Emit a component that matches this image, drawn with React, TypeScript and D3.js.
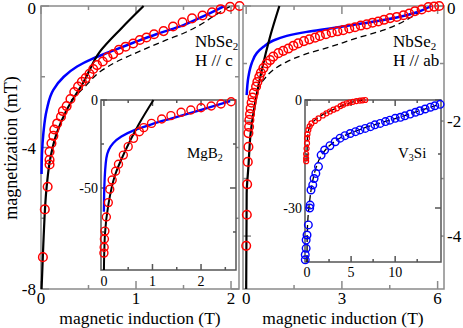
import React from "react";
import * as d3 from "d3";

type Pt = [number, number];

// NbSe2, H // c  (left panel)
const cCircles: Pt[] = [
  [2.09, 0], [1.99, -0.02], [1.89, -0.09], [1.8, -0.18], [1.7, -0.27], [1.59, -0.35],
  [1.49, -0.46], [1.39, -0.58], [1.29, -0.71], [1.19, -0.8], [1.11, -0.89], [1.04, -0.96],
  [0.97, -1.06], [0.89, -1.15], [0.82, -1.24], [0.76, -1.36], [0.7, -1.45], [0.65, -1.57],
  [0.59, -1.67], [0.55, -1.78], [0.51, -1.92], [0.47, -2.04], [0.43, -2.14], [0.39, -2.28],
  [0.35, -2.43], [0.31, -2.63], [0.27, -2.83], [0.23, -2.97], [0.21, -3.13], [0.17, -3.32],
  [0.14, -3.49], [0.13, -3.67], [0.11, -3.88], [0.09, -4.12], [0.09, -4.35], [0.09, -4.48],
  [0.07, -5.11], [0.04, -5.75], [0.02, -7.1],
];
const cBlue: Pt[] = [
  [0.006, -4.75], [0.01, -4.2], [0.025, -3.6], [0.06, -2.94], [0.13, -2.37], [0.24, -2.0],
  [0.38, -1.71], [0.55, -1.48], [0.73, -1.29], [0.97, -1.04], [1.22, -0.79], [1.5, -0.54],
  [1.74, -0.25], [1.93, 0],
];
const cSolid: Pt[] = [
  [0.006, -8], [0.025, -6.7], [0.06, -5.1], [0.095, -4.35], [0.165, -3.6], [0.27, -2.94],
  [0.45, -2.14], [0.62, -1.29], [0.85, -0.62], [1.08, 0],
];
const cDashed: Pt[] = [
  [0.32, -2.66], [0.48, -2.23], [0.62, -1.86], [0.8, -1.57], [0.97, -1.36], [1.15, -1.15],
  [1.32, -0.96], [1.5, -0.77], [1.67, -0.54], [1.81, -0.3], [1.95, -0.07], [2.0, 0],
];

// NbSe2, H // ab  (right panel)
const abCircles: Pt[] = [
  [6.05, 0], [5.89, -0.01], [5.71, -0.02], [5.5, -0.06], [5.29, -0.09], [5.11, -0.13],
  [4.93, -0.16], [4.72, -0.19], [4.51, -0.21], [4.32, -0.24], [4.14, -0.27], [3.96, -0.29],
  [3.78, -0.32], [3.59, -0.34], [3.41, -0.37], [3.23, -0.39], [3.04, -0.42], [2.86, -0.44],
  [2.68, -0.46], [2.5, -0.49], [2.31, -0.52], [2.16, -0.55], [1.98, -0.58], [1.81, -0.61],
  [1.63, -0.65], [1.48, -0.69], [1.32, -0.74], [1.16, -0.78], [1.01, -0.82], [0.85, -0.88],
  [0.75, -0.94], [0.64, -1.0], [0.54, -1.08], [0.46, -1.16], [0.41, -1.23], [0.35, -1.32],
  [0.31, -1.4], [0.24, -1.51], [0.2, -1.59], [0.17, -1.68], [0.14, -1.78], [0.12, -1.88],
  [0.1, -1.98], [0.09, -2.1], [0.07, -2.21], [0.07, -2.45], [0.05, -2.71], [0.03, -3.1],
  [0.02, -3.63], [0.0, -4.17],
];
const abBlue: Pt[] = [
  [0.015, -1.55], [0.07, -1.23], [0.17, -1.0], [0.33, -0.82], [0.54, -0.71], [0.85, -0.6],
  [1.27, -0.52], [1.9, -0.45], [2.63, -0.39], [3.67, -0.3], [4.72, -0.2], [5.4, -0.1], [5.8, 0],
];
const abSolid: Pt[] = [
  [0.0, -4.92], [0.015, -3.26], [0.07, -2.79], [0.14, -2.21], [0.28, -1.69], [0.49, -1.11],
  [0.75, -0.53], [1.04, 0],
];
const abDashed: Pt[] = [
  [0.33, -1.46], [0.54, -1.29], [0.85, -1.11], [1.27, -0.97], [1.79, -0.85], [2.63, -0.71],
  [3.46, -0.56], [4.3, -0.42], [5.03, -0.24], [5.55, -0.04], [5.62, 0],
];

// MgB2 inset
const mgCircles: Pt[] = [
  [2.62, -1], [2.41, -2.3], [2.21, -3.4], [2.0, -4.4], [1.79, -5.7], [1.59, -7.0],
  [1.38, -8.9], [1.19, -10.8], [0.98, -13.3], [0.82, -15.7], [0.73, -18], [0.61, -21.8],
  [0.5, -26.5], [0.4, -31.3], [0.3, -36.5], [0.24, -40.5], [0.17, -45.5], [0.12, -50.7],
  [0.09, -58.3], [0.05, -66.5], [0.02, -74.5], [0.01, -79], [0.005, -83.7], [0.0, -87],
];
const mgBlue: Pt[] = [
  [0.0, -63.5], [0.01, -48.3], [0.05, -33.1], [0.19, -24.6], [0.36, -20.8], [0.64, -17.0],
  [0.98, -13.8], [1.4, -10.4], [1.88, -6.6], [2.29, -3.2], [2.6, -0.6],
];
const mgSolid: Pt[] = [
  [0.0, -96.6], [0.02, -76.7], [0.09, -59.7], [0.23, -42.6], [0.43, -29.4], [0.71, -14.2],
  [1.02, 0],
];

// V3Si inset
const vRed: Pt[] = [
  [6.6, 0], [6.3, -0.1], [6.0, -0.15], [5.6, -0.3], [5.2, -0.5], [4.8, -0.7], [4.5, -0.9],
  [4.1, -1.3], [3.8, -1.7], [3.4, -2.3], [3.0, -2.7], [2.6, -3.2], [2.2, -3.7], [1.8, -4.3],
  [1.3, -5.1], [0.9, -5.8], [0.5, -6.5], [0.3, -7.3], [0.15, -8.3], [0.05, -9.5], [0.0, -10.6],
  [0.0, -12.0], [-0.05, -13.5], [-0.1, -15.0], [-0.1, -16.2], [-0.1, -17.0],
];
const vBlue: Pt[] = [
  [15.1, -1.2], [14.5, -1.6], [14.0, -2.0], [13.4, -2.5], [12.8, -3.0], [12.3, -3.4],
  [11.7, -3.9], [11.1, -4.4], [10.6, -4.8], [10.0, -5.1], [9.4, -5.6], [8.9, -6.0],
  [8.3, -6.5], [7.7, -6.9], [7.2, -7.4], [6.6, -7.9], [6.0, -8.3], [5.5, -8.8], [4.9, -9.3],
  [4.3, -9.9], [3.75, -10.6], [3.2, -11.6], [2.6, -12.7], [2.0, -13.9], [1.6, -15.3],
  [1.3, -18.5], [1.0, -20.4], [0.8, -21.8], [0.65, -23.6], [0.45, -25], [0.35, -29.2],
  [0.3, -30.0], [0.15, -34.7], [0.0, -37.5], [-0.1, -38.9], [-0.1, -41.2], [-0.2, -43],
  [-0.2, -44.4],
];
const vRedFit: Pt[] = [
  [0.0, -17], [0.02, -12], [0.1, -9.5], [0.3, -7.5], [0.7, -6], [1.3, -4.8], [2.2, -3.5],
  [3.4, -2.2], [4.5, -1.1], [5.5, -0.4], [6.3, 0],
];
const vBlueFit: Pt[] = [
  [0.0, -45], [0.02, -38], [0.1, -33], [0.3, -28], [0.6, -23], [1.0, -19], [1.6, -15.5],
  [2.5, -12.8], [4, -10.2], [6, -8.2], [8, -6.6], [10, -5.2], [12, -3.6], [14, -2.0],
  [15.1, -1.2],
];

const serif = "'Liberation Serif', 'Times New Roman', serif";
const RED = "#ff0000";
const BLUE = "#0000ff";

type Axis = {
  x: d3.ScaleLinear<number, number>;
  y: d3.ScaleLinear<number, number>;
};

function Frame({ x, y, xMajor, xMinor, yMajor, yMinor, major, minor, color, fill }: any) {
  const [x0, x1] = x.range();
  const [y1, y0] = y.range();
  const t: React.ReactElement[] = [];
  xMajor.concat(xMinor).forEach((v: number, i: number) => {
    const len = i < xMajor.length ? major : minor;
    t.push(<line key={"xb" + i} x1={x(v)} x2={x(v)} y1={y1} y2={y1 - len} />);
    t.push(<line key={"xt" + i} x1={x(v)} x2={x(v)} y1={y0} y2={y0 + len} />);
  });
  yMajor.concat(yMinor).forEach((v: number, i: number) => {
    const len = i < yMajor.length ? major : minor;
    t.push(<line key={"yl" + i} x1={x0} x2={x0 + len} y1={y(v)} y2={y(v)} />);
    t.push(<line key={"yr" + i} x1={x1} x2={x1 - len} y1={y(v)} y2={y(v)} />);
  });
  return (
    <g stroke={color} strokeWidth={1.5} fill="none">
      <rect x={x0} y={y0} width={x1 - x0} height={y1 - y0} fill={fill} />
      {t}
    </g>
  );
}

function Curve({ s, data, color, width, dash }: { s: Axis; data: Pt[]; color: string; width: number; dash?: string }) {
  const line = d3.line<Pt>().x(d => s.x(d[0])).y(d => s.y(d[1])).curve(d3.curveMonotoneY);
  return <path d={line(data) || ""} fill="none" stroke={color} strokeWidth={width} strokeDasharray={dash} />;
}

function Circles({ s, data, color, r, w }: { s: Axis; data: Pt[]; color: string; r: number; w: number }) {
  return (
    <g fill="none" stroke={color} strokeWidth={w}>
      {data.map((d, i) => <circle key={i} cx={s.x(d[0])} cy={s.y(d[1])} r={r} />)}
    </g>
  );
}

export default function App() {
  const L: Axis = {
    x: d3.scaleLinear().domain([0, 2.084]).range([41, 239]),
    y: d3.scaleLinear().domain([-8, 0]).range([289, 6]),
  };
  const R: Axis = {
    x: d3.scaleLinear().domain([-0.1, 6.2]).range([243, 444]),
    y: d3.scaleLinear().domain([-4.92, 0]).range([289, 6]),
  };
  const IL: Axis = {
    x: d3.scaleLinear().domain([-0.06, 2.72]).range([101, 236]),
    y: d3.scaleLinear().domain([-96.6, 0]).range([270, 100]),
  };
  const IR: Axis = {
    x: d3.scaleLinear().domain([-0.23, 15.2]).range([305, 441]),
    y: d3.scaleLinear().domain([-45, 0]).range([262, 100]),
  };
  const fs = 17;
  const ifs = 14;

  return (
    <svg width={463} height={328} style={{ position: "absolute", left: 0, top: 0, background: "#fff" }}
      fontFamily={serif}>
      {/* left main panel */}
      <Frame x={L.x} y={L.y} xMajor={[0, 1, 2]} xMinor={[0.5, 1.5]} yMajor={[0, -4, -8]} yMinor={[-2, -6]}
        major={8} minor={4} color="#8a8a8a" fill="#fff" />
      <Curve s={L} data={cDashed} color="#000" width={1.3} dash="6,4" />
      <Curve s={L} data={cBlue} color={BLUE} width={2.5} />
      <Curve s={L} data={cSolid} color="#000" width={2.2} />
      <Circles s={L} data={cCircles} color={RED} r={4.3} w={1.5} />
      <g fontSize={fs} textAnchor="end">
        {[0, -4, -8].map(v => <text key={v} x={36} y={Math.max(L.y(v) + 6, 14)}>{v}</text>)}
      </g>
      <g fontSize={fs} textAnchor="middle">
        {[0, 1, 2].map(v => <text key={v} x={L.x(v)} y={304}>{v}</text>)}
      </g>
      <text x={195} y={47} fontSize={fs}>NbSe<tspan fontSize={11} dy={3}>2</tspan></text>
      <text x={195} y={66} fontSize={fs}>H // c</text>

      {/* MgB2 inset */}
      <Frame x={IL.x} y={IL.y} xMajor={[0, 1, 2]} xMinor={[0.5, 1.5, 2.5]} yMajor={[0, -50]} yMinor={[-25, -75]}
        major={6} minor={3} color="#555" fill="#fff" />
      <Curve s={IL} data={mgBlue} color={BLUE} width={2.3} />
      <Curve s={IL} data={mgSolid} color="#000" width={2} />
      <Circles s={IL} data={mgCircles} color={RED} r={4} w={1.4} />
      <g fontSize={ifs} textAnchor="end">
        {[0, -50].map(v => <text key={v} x={98} y={IL.y(v) + 5}>{v}</text>)}
      </g>
      <g fontSize={ifs} textAnchor="middle">
        {[0, 1, 2].map(v => <text key={v} x={IL.x(v)} y={286}>{v}</text>)}
      </g>
      <text x={187} y={158} fontSize={15}>MgB<tspan fontSize={10} dy={3}>2</tspan></text>

      {/* right main panel */}
      <Frame x={R.x} y={R.y} xMajor={[0, 3, 6]} xMinor={[1.5, 4.5]} yMajor={[0, -2, -4]} yMinor={[-1, -3]}
        major={8} minor={4} color="#8a8a8a" fill="#fff" />
      <Curve s={R} data={abDashed} color="#000" width={1.3} dash="6,4" />
      <Curve s={R} data={abBlue} color={BLUE} width={2.5} />
      <Curve s={R} data={abSolid} color="#000" width={2.2} />
      <Circles s={R} data={abCircles} color={RED} r={4.3} w={1.5} />
      <g fontSize={fs} textAnchor="start">
        {[0, -2, -4].map(v => <text key={v} x={447} y={Math.max(R.y(v) + 6, 14)}>{v}</text>)}
      </g>
      <g fontSize={fs} textAnchor="middle">
        {[0, 3, 6].map(v => <text key={v} x={R.x(v)} y={304}>{v}</text>)}
      </g>
      <text x={393} y={47} fontSize={fs}>NbSe<tspan fontSize={11} dy={3}>2</tspan></text>
      <text x={393} y={66} fontSize={fs}>H // ab</text>

      {/* V3Si inset */}
      <Frame x={IR.x} y={IR.y} xMajor={[0, 5, 10]} xMinor={[2.5, 7.5, 12.5]} yMajor={[0, -30]} yMinor={[-15]}
        major={6} minor={3} color="#555" fill="#fff" />
      <Curve s={IR} data={vRedFit} color="#000" width={1.3} dash="7,3" />
      <Curve s={IR} data={vBlueFit} color="#000" width={1.3} dash="7,3" />
      <Circles s={IR} data={vRed} color={RED} r={2.5} w={1.2} />
      <Circles s={IR} data={vBlue} color={BLUE} r={3.8} w={1.4} />
      <g fontSize={ifs} textAnchor="end">
        {[0, -30].map(v => <text key={v} x={302} y={IR.y(v) + 5}>{v}</text>)}
      </g>
      <g fontSize={ifs} textAnchor="middle">
        {[0, 5, 10].map(v => <text key={v} x={IR.x(v)} y={277}>{v}</text>)}
      </g>
      <text x={398} y={158} fontSize={15}>V<tspan fontSize={10} dy={3}>3</tspan><tspan dy={-3}>Si</tspan></text>

      {/* axis titles */}
      <text transform="translate(17,148) rotate(-90)" textAnchor="middle" fontSize={18}>magnetization (mT)</text>
      <text x={140} y={324} textAnchor="middle" fontSize={17.5}>magnetic induction (T)</text>
      <text x={343} y={324} textAnchor="middle" fontSize={17.5}>magnetic induction (T)</text>
    </svg>
  );
}
